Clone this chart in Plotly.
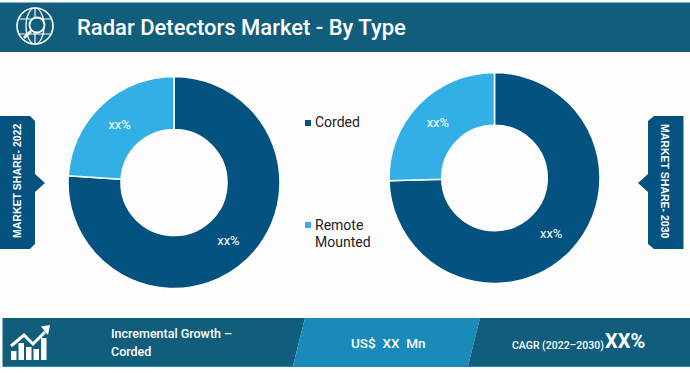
import plotly.graph_objects as go

W, H = 690, 373
categories = ["Corded", "Remote Mounted"]
share_2022 = [76.0, 24.0]
share_2030 = [74.6, 25.4]
labels_xx = ["xx%", "xx%"]
title = "Radar Detectors Market - By Type"
DARK = "#03527f"
LIGHT = "#32b0e5"
BAND = "#115e7c"
MID = "#1a8aba"
SANS = "Roboto"


def px(x):
    return x / W


def py(y):
    return 1 - y / H


def path(points, close=True):
    s = "M " + " L ".join(f"{px(x):.5f},{py(y):.5f}" for x, y in points)
    return s + (" Z" if close else "")


def poly(points, fill):
    return dict(type="path", xref="paper", yref="paper", path=path(points),
                fillcolor=fill, line=dict(width=0), layer="above")


def stroke(points, color="white", width=1.5):
    return dict(type="path", xref="paper", yref="paper", path=path(points, False),
                line=dict(color=color, width=width), layer="above")


def ring(cx, cy, rx, ry, width=1.5, color="white", fill=None):
    d = dict(type="circle", xref="paper", yref="paper", x0=px(cx - rx), x1=px(cx + rx),
             y0=py(cy + ry), y1=py(cy - ry), line=dict(color=color, width=width), layer="above")
    if fill:
        d["fillcolor"] = fill
    return d


def text(x, y, s, size, color="white", anchor="left", font=SANS, angle=0, weight=500):
    return dict(xref="paper", yref="paper", x=px(x), y=py(y), text=s, showarrow=False,
                xanchor=anchor, yanchor="middle", textangle=angle,
                font=dict(family=font, size=size, color=color, weight=weight))


def donut(values, cx, cy, r):
    return go.Pie(
        values=values, labels=categories, hole=0.5, sort=False, direction="clockwise",
        rotation=0, text=labels_xx, textinfo="text", textposition="inside",
        insidetextorientation="horizontal", showlegend=False, hoverinfo="label+percent",
        textfont=dict(family="Roboto", size=13, color="white"),
        marker=dict(colors=[DARK, LIGHT], line=dict(color="white", width=1.5)),
        domain=dict(x=[px(cx - r), px(cx + r)], y=[py(cy + r), py(cy - r)]),
    )


shapes = [
    poly([(0, 2.5), (690, 2.5), (690, 52), (0, 52)], BAND),
    poly([(2.5, 318), (305, 318), (293, 366), (2.5, 366)], BAND),
    poly([(305, 318), (480, 318), (468, 366), (293, 366)], MID),
    poly([(480, 318), (690, 318), (690, 366), (468, 366)], BAND),
    poly([(2.5, 366), (690, 366), (690, 367), (2.5, 367)], MID),
    # side tabs
    poly([(0, 116), (30, 116), (35, 121), (35, 174), (45, 183), (35, 192), (35, 244), (30, 249), (0, 249)], DARK),
    poly([(683.5, 116), (654, 116), (648, 121), (648, 174), (638, 183), (648, 192), (648, 244), (654, 249), (683.5, 249)], DARK),
    # globe icon
    ring(35, 26, 18, 18, 1.6),
    ring(35, 26, 9, 18, 1.2),
    stroke([(18, 19), (52, 19)], width=1.2),
    stroke([(18, 34), (52, 34)], width=1.2),
    stroke([(35, 8), (35, 44)], width=1.2),
    ring(37, 25, 7.5, 7.5, 1.8, fill=BAND),
    stroke([(31, 31), (24, 38)], width=2.6),
    # growth icon
    stroke([(11, 346), (24, 335), (33, 344), (45, 332)], width=3),
    poly([(41, 326.5), (50, 325), (48, 335)], "white"),
]
for x0, top in [(11, 351), (18.5, 343), (26, 347), (33.5, 349), (41, 338)]:
    shapes.append(poly([(x0, top), (x0 + 5.5, top), (x0 + 5.5, 360), (x0, 360)], "white"))
# legend markers
shapes.append(dict(type="rect", xref="paper", yref="paper", x0=px(305), x1=px(311), y0=py(126), y1=py(120),
                   fillcolor=DARK, line=dict(width=0)))
shapes.append(dict(type="rect", xref="paper", yref="paper", x0=px(305), x1=px(311), y0=py(228), y1=py(222),
                   fillcolor=LIGHT, line=dict(width=0)))

annotations = [
    text(75, 27, title, 22),
    text(109, 333, "Incremental Growth –", 12.5),
    text(109, 351, "Corded", 12.5),
    text(349, 343, "US$  XX  Mn", 13.5),
    text(510, 345, "CAGR (2022–2030)", 10.5),
    text(603, 341, "<b>XX%</b>", 20),
    text(17, 181, "MARKET SHARE- 2022", 10.5, font="Liberation Sans", anchor="center", angle=-90, weight="bold"),
    text(665, 181, "MARKET SHARE- 2030", 10.5, font="Liberation Sans", anchor="center", angle=90, weight="bold"),
    text(313, 122, categories[0], 14, color="#222222", weight=400),
    text(313, 225, "Remote", 14, color="#222222", weight=400),
    text(313, 242, "Mounted", 14, color="#222222", weight=400),
]

fig = go.Figure([donut(share_2022, 174, 182.5, 106), donut(share_2030, 494.5, 178, 105.5)])
fig.update_layout(width=W, height=H, margin=dict(l=0, r=0, t=0, b=0), paper_bgcolor="#fdfdfd",
                  plot_bgcolor="#fdfdfd", shapes=shapes, annotations=annotations, showlegend=False)
fig.write_html("out.html", config={"displayModeBar": False},
               post_script="document.body.style.margin='0';")
